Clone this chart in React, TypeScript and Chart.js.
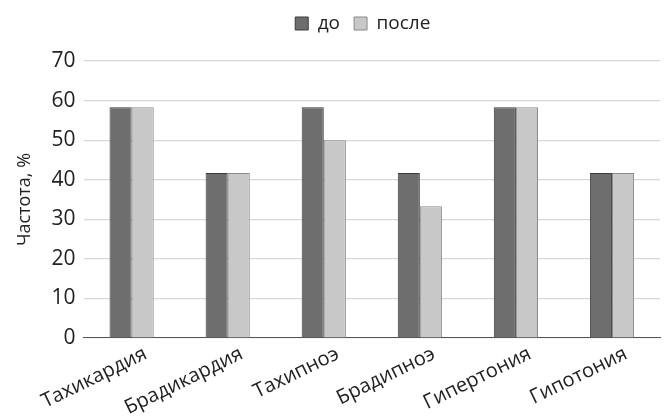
import React, { useEffect, useRef } from "react";
import { Chart, registerables } from "chart.js";

Chart.register(...registerables);

const categories = ["Тахикардия", "Брадикардия", "Тахипноэ", "Брадипноэ", "Гипертония", "Гипотония"];
const beforeValues = [58.3, 41.7, 58.3, 41.7, 58.3, 41.7];
const afterValues = [58.3, 41.7, 50.0, 33.3, 58.3, 41.7];
const seriesNames = ["до", "после"];
const yTitle = "Частота, %";

const FONT = "'Open Sans', 'DejaVu Sans', sans-serif";

const legendGap = {
  id: "legendGap",
  beforeInit(chart: any) {
    const legend = chart.legend;
    if (!legend) return;
    const origFit = legend.fit;
    legend.fit = function () {
      origFit.call(this);
      this.height += 18;
    };
  },
  afterLayout(chart: any) {
    const legend = chart.legend;
    if (!legend) return;
    const area = chart.chartArea;
    const shift = (area.left + area.right) / 2 - (legend.left + legend.right) / 2 - 9;
    legend.left += shift;
    legend.right += shift;
  },
};

export default function App() {
  const ref = useRef<HTMLCanvasElement | null>(null);
  useEffect(() => {
    document.body.style.margin = "0";
    const ctx = ref.current!;
    const chart = new Chart(ctx, {
      type: "bar",
      plugins: [legendGap],
      data: {
        labels: categories,
        datasets: [
          {
            label: seriesNames[0],
            data: beforeValues,
            backgroundColor: "#6e6e6e",
            borderColor: "#3a3a3a",
            borderWidth: 1,
            categoryPercentage: 0.46,
            barPercentage: 1,
          },
          {
            label: seriesNames[1],
            data: afterValues,
            backgroundColor: "#c8c8c8",
            borderColor: "#8a8a8a",
            borderWidth: 1,
            categoryPercentage: 0.46,
            barPercentage: 1,
          },
        ],
      },
      options: {
        animation: false,
        responsive: false,
        maintainAspectRatio: false,
        layout: { padding: { top: 0, right: 10, left: 14, bottom: -8 } },
        plugins: {
          legend: {
            position: "top",
            labels: {
              boxWidth: 13,
              boxHeight: 13,
              color: "#222",
              font: { family: FONT, size: 19 },
              padding: 14,
            },
          },
          tooltip: { enabled: false },
        },
        scales: {
          x: {
            grid: { display: false, drawTicks: false },
            border: { display: true, color: "#555", width: 1 },
            ticks: {
              color: "#222",
              font: { family: FONT, size: 20 },
              minRotation: 26,
              maxRotation: 26,
              padding: 4,
              labelOffset: 14,
            },
          },
          y: {
            min: 0,
            max: 70,
            ticks: {
              stepSize: 10,
              color: "#222",
              font: { family: FONT, size: 21 },
              padding: 8,
            },
            grid: { color: "#d8d8d8", lineWidth: 1.2, drawTicks: false },
            border: { display: false },
            title: {
              display: true,
              text: yTitle,
              color: "#222",
              font: { family: FONT, size: 18 },
              padding: { top: 0, bottom: 8 },
            },
          },
        },
      },
    });
    return () => chart.destroy();
  }, []);
  return (
    <div style={{ width: 670, height: 416, background: "#fff" }}>
      <canvas ref={ref} width={670} height={416} style={{ display: "block" }} />
    </div>
  );
}
